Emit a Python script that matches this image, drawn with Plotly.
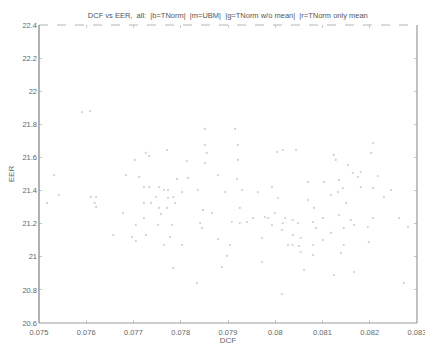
import plotly.graph_objects as go

dcf = [0.07608, 0.07591, 0.07726, 0.07733, 0.07703, 0.07684, 0.07712, 0.07532, 0.07722, 0.07733,
       0.07754, 0.07765, 0.07610, 0.07621, 0.07618, 0.07621, 0.07517, 0.07542, 0.07722, 0.07737,
       0.07748, 0.07754, 0.07758, 0.07678, 0.07722, 0.07705, 0.07752, 0.07657, 0.07697, 0.07705,
       0.07726, 0.07765,
       0.07851, 0.07915, 0.07921, 0.07851, 0.07771, 0.07855, 0.07813, 0.07921, 0.07851, 0.08004,
       0.08016, 0.07815, 0.07792, 0.07879, 0.07919, 0.07993, 0.07773, 0.07803, 0.07784, 0.07773,
       0.07788, 0.07894, 0.07930, 0.07963, 0.08006, 0.07771, 0.07866, 0.07925, 0.07847, 0.07978,
       0.07985, 0.07999, 0.08021, 0.07953, 0.07841, 0.07908, 0.07925, 0.07940, 0.07781, 0.07845,
       0.08016, 0.07993, 0.08014, 0.07879, 0.07904, 0.07803, 0.08027, 0.07898, 0.07972, 0.07887,
       0.07784, 0.07834, 0.08014, 0.07777, 0.07972, 0.07836,
       0.08044, 0.08124, 0.08128, 0.08154, 0.08203, 0.08207, 0.08181, 0.08175, 0.08164, 0.08217,
       0.08135, 0.08103, 0.08069, 0.08143, 0.08133, 0.08181, 0.08207, 0.08245, 0.08230, 0.08118,
       0.08069, 0.08150, 0.08082, 0.08037, 0.08048, 0.08080, 0.08101, 0.08135, 0.08160, 0.08167,
       0.08145, 0.08196, 0.08262, 0.08207, 0.08086, 0.08118, 0.08037, 0.08054, 0.08101, 0.08037,
       0.08050, 0.08080, 0.08145, 0.08054, 0.08139, 0.08080, 0.08198, 0.08167, 0.08124, 0.08272,
       0.08061, 0.08281]

eer = [21.880, 21.874, 21.627, 21.609, 21.585, 21.494, 21.482, 21.494, 21.421, 21.421,
       21.421, 21.403, 21.361, 21.361, 21.325, 21.301, 21.325, 21.373, 21.325, 21.325,
       21.361, 21.295, 21.258, 21.264, 21.234, 21.192, 21.192, 21.132, 21.119, 21.095,
       21.132, 21.071,
       21.772, 21.772, 21.675, 21.675, 21.645, 21.627, 21.578, 21.585, 21.566, 21.633,
       21.645, 21.476, 21.470, 21.494, 21.470, 21.421, 21.403, 21.391, 21.361, 21.355,
       21.325, 21.391, 21.403, 21.391, 21.355, 21.295, 21.264, 21.295, 21.283, 21.240,
       21.234, 21.264, 21.234, 21.234, 21.204, 21.210, 21.204, 21.210, 21.192, 21.174,
       21.204, 21.192, 21.162, 21.107, 21.071, 21.071, 21.071, 21.005, 20.968, 20.938,
       20.932, 20.842, 20.775, 21.119, 21.113, 21.403,
       21.645, 21.615, 21.585, 21.554, 21.627, 21.687, 21.512, 21.482, 21.506, 21.488,
       21.464, 21.452, 21.452, 21.415, 21.391, 21.421, 21.415, 21.403, 21.361, 21.373,
       21.343, 21.325, 21.295, 21.222, 21.204, 21.210, 21.234, 21.252, 21.222, 21.192,
       21.174, 21.180, 21.234, 21.234, 21.174, 21.144, 21.132, 21.113, 21.101, 21.071,
       21.065, 21.071, 21.071, 21.029, 21.023, 21.011, 21.089, 20.908, 20.890, 20.842,
       20.920, 21.180]

x_ticks = [0.075, 0.076, 0.077, 0.078, 0.079, 0.08, 0.081, 0.082, 0.083]
x_labels = ["0.075", "0.076", "0.077", "0.078", "0.079", "0.08", "0.081", "0.082", "0.083"]
y_ticks = [20.6, 20.8, 21, 21.2, 21.4, 21.6, 21.8, 22, 22.2, 22.4]
y_labels = ["20.6", "20.8", "21", "21.2", "21.4", "21.6", "21.8", "22", "22.2", "22.4"]

title = "DCF vs EER,  all:  |b=TNorm|  |m=UBM|  |g=TNorm w/o mean|  |r=TNorm only mean"

fig = go.Figure()
fig.add_trace(go.Scatter(
    x=dcf, y=eer, mode="markers",
    marker=dict(size=2.2, color="#c4c4c4", opacity=0.8, line=dict(width=0)),
    showlegend=False, hoverinfo="skip"))

fnt = dict(family="Liberation Sans, Arial, sans-serif", size=8, color="#666666")
tfnt = dict(family="Liberation Sans, Arial, sans-serif", size=7.5, color="#666666")

fig.update_layout(
    width=425, height=348,
    margin=dict(l=39, r=8, t=25, b=25),
    paper_bgcolor="white", plot_bgcolor="white",
    font=fnt,
    title=dict(text=title, x=0.536, xanchor="center", y=1 - 15 / 348, yanchor="middle",
               font=dict(family="Liberation Sans, Arial, sans-serif", size=7.5, color="#555555")),
    xaxis=dict(range=[0.075, 0.083], tickvals=x_ticks, ticktext=x_labels,
               showgrid=False, zeroline=False, showline=False, automargin=False,
               ticks="inside", ticklen=3, tickcolor="#c8c8c8", mirror="ticks",
               tickfont=tfnt, ticklabelstandoff=3, ticklabeloverflow="allow",
               title=dict(text="DCF", font=fnt, standoff=0)),
    yaxis=dict(range=[20.6, 22.4], tickvals=y_ticks, ticktext=y_labels,
               showgrid=False, zeroline=False, showline=False, automargin=False,
               ticks="inside", ticklen=3, tickcolor="#c8c8c8", mirror="ticks",
               tickfont=tfnt, ticklabelstandoff=1, ticklabeloverflow="allow",
               title=dict(text="EER", font=fnt, standoff=6)),
    shapes=[
        dict(type="line", xref="paper", yref="paper", x0=0, x1=0, y0=0, y1=1,
             line=dict(color="#999999", width=1.5)),
        dict(type="line", xref="paper", yref="paper", x0=0, x1=1, y0=0, y1=0,
             line=dict(color="#999999", width=1.2)),
        dict(type="line", xref="paper", yref="paper", x0=1, x1=1, y0=0, y1=1,
             line=dict(color="#999999", width=1.2)),
        dict(type="line", xref="paper", yref="paper", x0=0, x1=1, y0=1, y1=1,
             line=dict(color="#b4b4b4", width=1, dash="dash")),
    ],
)

fig.write_html("out.html")
